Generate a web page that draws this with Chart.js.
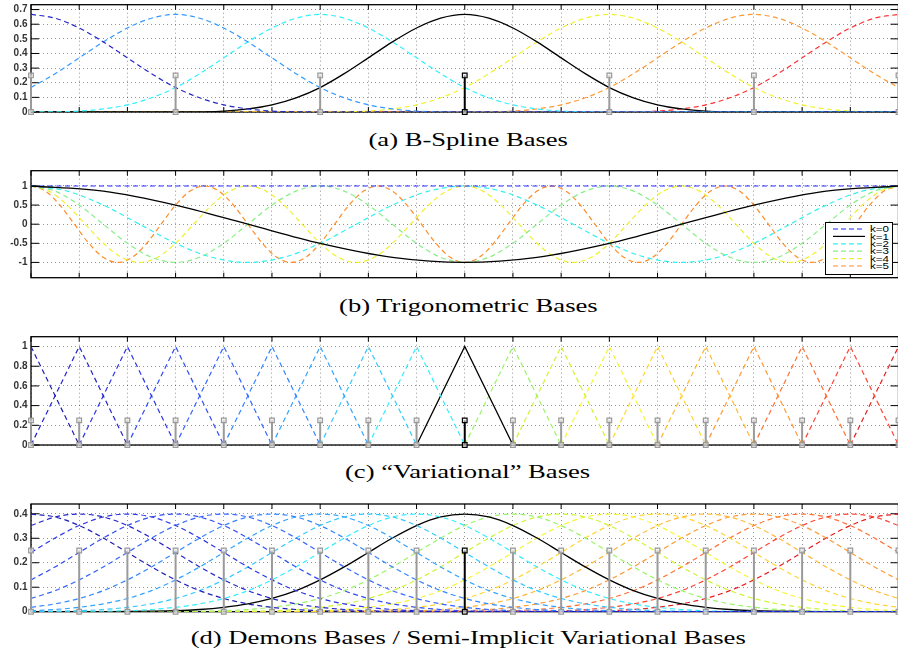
<!DOCTYPE html>
<html><head><meta charset="utf-8">
<script src="https://cdn.jsdelivr.net/npm/chart.js@4.4.1/dist/chart.umd.min.js"></script>
<style>
html,body{margin:0;padding:0;background:#fff;overflow:hidden;width:898px;height:656px;}
canvas{position:absolute;left:0;}
.cap{position:absolute;left:0;width:936px;text-align:center;font-family:"Liberation Serif",serif;font-size:19px;line-height:20px;color:#000;white-space:nowrap;}
.cap span{display:inline-block;transform:scaleX(1.40);transform-origin:center;}
#legend{position:absolute;left:825px;top:222px;}
</style></head>
<body>
<canvas id="ca" width="900" height="120" style="top:0px;width:900px;height:120px"></canvas>
<div class="cap" style="top:130px"><span>(a) B-Spline Bases</span></div>
<canvas id="cb" width="900" height="120" style="top:166px;width:900px;height:120px"></canvas>
<div class="cap" style="top:296px"><span>(b) Trigonometric Bases</span></div>
<svg id="legend" width="68" height="53"></svg>
<canvas id="cc" width="900" height="120" style="top:332px;width:900px;height:120px"></canvas>
<div class="cap" style="top:462px"><span>(c) “Variational” Bases</span></div>
<canvas id="cd" width="900" height="120" style="top:499px;width:900px;height:120px"></canvas>
<div class="cap" style="top:628px"><span>(d) Demons Bases / Semi-Implicit Variational Bases</span></div>
<script>
// ---------- data ----------
const xTicks = [0,1,2,3,4,5,6,7,8,9,10,11,12,13,14,15,16,17,18];
const xMin = 0, xMax = 18;

// (a) B-spline bases
const yTicksA = [0,0.1,0.2,0.3,0.4,0.5,0.6,0.7];
const yLabelsA = ['0','0.1','0.2','0.3','0.4','0.5','0.6','0.7'];
const bsplineCenters = [0,3,6,9,12,15,18];
const bsplineColors = ['#2626c8','#3399ff','#33f0ff','#000000','#f2f22e','#ff9933','#ff3333'];
const bsplineOffsets = [-6,-5.5,-5,-4.5,-4,-3.5,-3,-2.5,-2,-1.5,-1,-0.5,0,0.5,1,1.5,2,2.5,3,3.5,4,4.5,5,5.5,6];
const bsplineProfile = [0,0.001,0.006,0.021,0.049,0.097,0.167,0.262,0.370,0.479,0.574,0.641,0.667,0.641,0.574,0.479,0.370,0.262,0.167,0.097,0.049,0.021,0.006,0.001,0];
const stemsA = [0,3,6,9,12,15,18];
const stemHeight = 0.25;
const stemCenter = 9;

// (b) trigonometric bases
const yTicksB = [-1,-0.5,0,0.5,1];
const yLabelsB = ['-1','-0.5','0','0.5','1'];
const trigLabels = ['k=0','k=1','k=2','k=3','k=4','k=5'];
const trigColors = ['#2a2aff','#000000','#33f0f0','#88ee88','#f0f030','#ff8c26'];
const trigStep = [18,1.5,0.75,0.5,0.375,0.3];
const trigK0 = [1,1];
const trigK1 = [1,0.866,0.5,0,-0.5,-0.866,-1,-0.866,-0.5,0,0.5,0.866,1];
const trigK2 = [1,0.866,0.5,0,-0.5,-0.866,-1,-0.866,-0.5,0,0.5,0.866,
                1,0.866,0.5,0,-0.5,-0.866,-1,-0.866,-0.5,0,0.5,0.866,1];
const trigK3 = [1,0.866,0.5,0,-0.5,-0.866,-1,-0.866,-0.5,0,0.5,0.866,
                1,0.866,0.5,0,-0.5,-0.866,-1,-0.866,-0.5,0,0.5,0.866,
                1,0.866,0.5,0,-0.5,-0.866,-1,-0.866,-0.5,0,0.5,0.866,1];
const trigK4 = [1,0.866,0.5,0,-0.5,-0.866,-1,-0.866,-0.5,0,0.5,0.866,
                1,0.866,0.5,0,-0.5,-0.866,-1,-0.866,-0.5,0,0.5,0.866,
                1,0.866,0.5,0,-0.5,-0.866,-1,-0.866,-0.5,0,0.5,0.866,
                1,0.866,0.5,0,-0.5,-0.866,-1,-0.866,-0.5,0,0.5,0.866,1];
const trigK5 = [1,0.866,0.5,0,-0.5,-0.866,-1,-0.866,-0.5,0,0.5,0.866,
                1,0.866,0.5,0,-0.5,-0.866,-1,-0.866,-0.5,0,0.5,0.866,
                1,0.866,0.5,0,-0.5,-0.866,-1,-0.866,-0.5,0,0.5,0.866,
                1,0.866,0.5,0,-0.5,-0.866,-1,-0.866,-0.5,0,0.5,0.866,
                1,0.866,0.5,0,-0.5,-0.866,-1,-0.866,-0.5,0,0.5,0.866,1];
const trigSeries = [trigK0,trigK1,trigK2,trigK3,trigK4,trigK5];

// (c) "variational" (hat) bases
const yTicksC = [0,0.2,0.4,0.6,0.8,1];
const yLabelsC = ['0','0.2','0.4','0.6','0.8','1'];
const hatCenters = [0,1,2,3,4,5,6,7,8,9,10,11,12,13,14,15,16,17,18];
const hatOffsets = [-1,0,1];
const hatProfile = [0,1,0];
const stemsCD = [0,1,2,3,4,5,6,7,8,9,10,11,12,13,14,15,16,17,18];
const colors19 = ['#1e1eb4','#2323cd','#2a35e6','#2f4cf5','#3366ff','#3385ff','#33a3ff','#33c8ff','#33eeff','#000000',
                  '#99f566','#ccf533','#f5f533','#ffd633','#ffb833','#ff9933','#ff7033','#ff4433','#e61e1e'];

// (d) demons (gaussian) bases
const yTicksD = [0,0.1,0.2,0.3,0.4];
const yLabelsD = ['0','0.1','0.2','0.3','0.4'];
const gaussCenters = [0,1,2,3,4,5,6,7,8,9,10,11,12,13,14,15,16,17,18];
const gaussOffsets = [-8,-7.5,-7,-6.5,-6,-5.5,-5,-4.5,-4,-3.5,-3,-2.5,-2,-1.5,-1,-0.5,0,0.5,1,1.5,2,2.5,3,3.5,4,4.5,5,5.5,6,6.5,7,7.5,8];
const gaussProfile = [0,0.0005,0.001,0.002,0.004,0.009,0.018,0.032,0.054,0.086,0.130,0.183,0.242,0.301,0.352,0.387,0.399,0.387,0.352,0.301,0.242,0.183,0.130,0.086,0.054,0.032,0.018,0.009,0.004,0.002,0.001,0.0005,0];

// ---------- helpers ----------
function shifted(center, offsets, profile, pad){
  const pts = offsets.map((o,i)=>({x:center+o, y:profile[i]})).filter(p=>p.x>=xMin && p.x<=xMax);
  if (pad && pts[0].x > xMin) pts.unshift({x:xMin, y:0});
  if (pad && pts[pts.length-1].x < xMax) pts.push({x:xMax, y:0});
  return pts;
}
function stemDatasets(xs){
  const ds = xs.map(c=>{
    const col = c===stemCenter ? '#000000' : '#9a9a9a';
    return {data:[{x:c,y:0},{x:c,y:stemHeight}], borderColor:col, borderWidth:2,
      pointRadius:3.3, pointStyle:'rect', pointBorderColor:col, pointBorderWidth:1.2,
      pointBackgroundColor:'rgba(235,235,235,0.6)', clip:false};
  });
  const ci = xs.indexOf(stemCenter);
  if (ci > 0) { const c = ds.splice(ci,1)[0]; ds.unshift(c); }
  return ds;
}
function curve(pts, color, isCenter, smooth){
  return {data:pts, borderColor:color, borderWidth:isCenter?1.3:1.2, borderDash:isCenter?[]:[5,3.5],
    cubicInterpolationMode: smooth?'monotone':'default', tension:0, pointRadius:0, fill:false};
}

const boxPlugin = {
  id:'mbox',
  beforeDatasetsDraw(chart){
    const {ctx, chartArea:a, scales:{x,y}} = chart;
    ctx.save();
    ctx.setLineDash([]);
    ctx.strokeStyle='#000'; ctx.lineWidth=1;
    ctx.beginPath();
    x.ticks.forEach(t=>{const px=x.getPixelForValue(t.value);
      ctx.moveTo(px,a.top); ctx.lineTo(px,a.top+5); ctx.moveTo(px,a.bottom); ctx.lineTo(px,a.bottom-5);});
    y.ticks.forEach(t=>{const py=y.getPixelForValue(t.value);
      ctx.moveTo(a.left,py); ctx.lineTo(a.left+8,py); ctx.moveTo(a.right,py); ctx.lineTo(a.right-8,py);});
    ctx.stroke();
    ctx.lineWidth=1.3;
    ctx.strokeRect(a.left,a.top,a.right-a.left,a.bottom-a.top);
    ctx.restore();
  }
};

function noPad(s){ s.paddingTop=0; s.paddingBottom=0; s.paddingLeft=0; s.paddingRight=0; }

function makeChart(id, padTop, padBottom, yMin, yMax, yTicks, yLabels, datasets){
  return new Chart(document.getElementById(id), {
    type:'line',
    data:{datasets},
    options:{
      responsive:false, animation:false, events:[], devicePixelRatio:1,
      layout:{padding:{top:padTop,bottom:padBottom,left:0,right:1.5}, autoPadding:false},
      plugins:{legend:{display:false}, tooltip:{enabled:false}},
      scales:{
        x:{type:'linear', min:xMin, max:xMax,
           afterBuildTicks:s=>{s.ticks = xTicks.map(v=>({value:v}));},
           ticks:{display:false},
           grid:{color:'rgba(0,0,0,0.42)', lineWidth:1, drawTicks:false},
           border:{display:false, dash:[1,3]},
           afterFit:s=>{s.height=0; noPad(s);}},
        y:{type:'linear', min:yMin, max:yMax,
           afterBuildTicks:s=>{s.ticks = yTicks.map(v=>({value:v}));},
           ticks:{autoSkip:false, padding:3.5, color:'#333',
                  font:{family:'"Liberation Sans", Arial, sans-serif', size:10, weight:'bold'},
                  callback:(v,i)=>yLabels[i]},
           grid:{color:'rgba(0,0,0,0.42)', lineWidth:1, drawTicks:false},
           border:{display:false, dash:[1,3]},
           afterFit:s=>{s.width=31; noPad(s);}}
      }
    },
    plugins:[boxPlugin]
  });
}

// (a)
const dsA = stemDatasets(stemsA);
bsplineCenters.forEach((c,i)=>dsA.push(curve(shifted(c,bsplineOffsets,bsplineProfile,true), bsplineColors[i], c===stemCenter, true)));
makeChart('ca', 4.7, 8, 0, 0.7333, yTicksA, yLabelsA, dsA);

// (b)
const dsB = [];
const trigOrder = [1,0,2,3,4,5];
trigOrder.forEach(k=>{
  const pts = trigSeries[k].map((v,i)=>({x:i*trigStep[k], y:v}));
  const d = curve(pts, trigColors[k], k===1, true);
  d.label = trigLabels[k];
  dsB.push(d);
});
makeChart('cb', 4.7, 8.3, -1.4, 1.4, yTicksB, yLabelsB, dsB);

// (c)
const dsC = stemDatasets(stemsCD);
hatCenters.forEach((c,i)=>dsC.push(curve(shifted(c,hatOffsets,hatProfile,false), colors19[i], c===stemCenter, false)));
makeChart('cc', 4.7, 7, 0, 1.1, yTicksC, yLabelsC, dsC);

// (d)
const dsD = stemDatasets(stemsCD);
gaussCenters.forEach((c,i)=>dsD.push(curve(shifted(c,gaussOffsets,gaussProfile,true), colors19[i], c===stemCenter, true)));
makeChart('cd', 5, 7.3, 0, 0.44, yTicksD, yLabelsD, dsD);

// legend for (b)
(function(){
  const svg = document.getElementById('legend');
  const NS = 'http://www.w3.org/2000/svg';
  const bg = document.createElementNS(NS,'rect');
  bg.setAttribute('x',0.5); bg.setAttribute('y',0.5); bg.setAttribute('width',67); bg.setAttribute('height',52);
  bg.setAttribute('fill','#fff'); bg.setAttribute('stroke','#000'); bg.setAttribute('stroke-width',1);
  svg.appendChild(bg);
  trigLabels.forEach((lab,k)=>{
    const yy = 7 + k*7.4;
    const ln = document.createElementNS(NS,'line');
    ln.setAttribute('x1',8); ln.setAttribute('x2',40); ln.setAttribute('y1',yy); ln.setAttribute('y2',yy);
    ln.setAttribute('stroke',trigColors[k]); ln.setAttribute('stroke-width',1.2);
    if (k!==1) ln.setAttribute('stroke-dasharray','5,3');
    svg.appendChild(ln);
    const tx = document.createElementNS(NS,'text');
    tx.setAttribute('x',45); tx.setAttribute('y',yy+3.2);
    tx.setAttribute('font-family','Liberation Sans, Arial, sans-serif');
    tx.setAttribute('font-size','9');
    tx.setAttribute('fill','#000');
    tx.setAttribute('textLength','19'); tx.setAttribute('lengthAdjust','spacingAndGlyphs');
    tx.textContent = lab;
    svg.appendChild(tx);
  });
})();
</script>
</body></html>
